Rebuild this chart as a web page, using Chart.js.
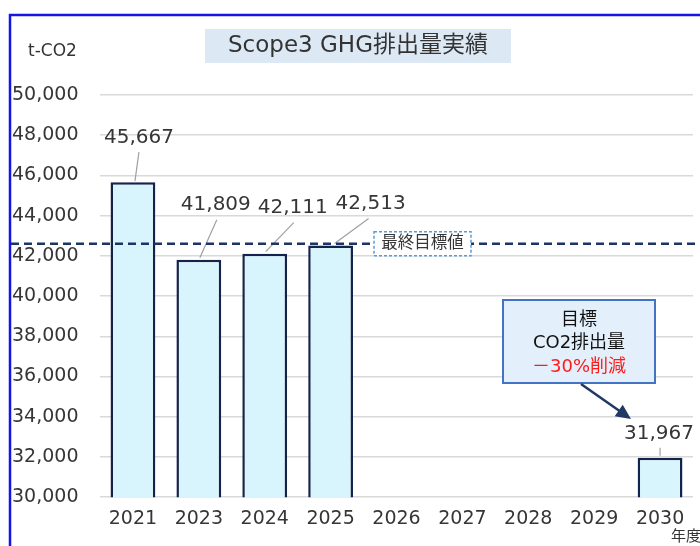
<!DOCTYPE html>
<html lang="ja">
<head>
    <meta charset="UTF-8">
    <title>Scope3 GHG排出量実績</title>
    <script src="https://cdn.jsdelivr.net/npm/chart.js"></script>
    <style>
        html, body { margin: 0; padding: 0; background: #ffffff; }
        #wrap { width: 700px; height: 546px; position: relative; }
    </style>
</head>
<body>
<div id="wrap">
    <canvas id="ghgChart" width="700" height="546"></canvas>
</div>
<script>
    // data
    const years = ['2021', '2023', '2024', '2025', '2026', '2027', '2028', '2029', '2030'];
    const emissions = [45667, 41809, 42111, 42513, null, null, null, null, 31967];
    const yTicks = [30000, 32000, 34000, 36000, 38000, 40000, 42000, 44000, 46000, 48000, 50000];
    const targetValue = 42600;

    const FONT = '"DejaVu Sans", "Noto Sans CJK JP", sans-serif';
    const TXT = '#363636';

    // label offsets from bar top (dx, dy of label centre, leader start/end)
    const labelLayout = [
        { dx: 6, dy: -44, from: [2, -1], to: [6, -30] },
        { dx: 17, dy: -55, from: [1, -2], to: [18, -40] },
        { dx: 28, dy: -46, from: [1, -2], to: [29, -31] },
        { dx: 40, dy: -42, from: [4, -2], to: [38, -27] },
        null, null, null, null,
        { dx: -1, dy: -24, from: [0, -2], to: [0, -10] }
    ];

    const decorations = {
        id: 'decorations',
        afterDatasetsDraw(chart) {
            const { ctx, scales } = chart;
            const y = scales.y;
            ctx.save();

            // data labels + leader lines
            const meta = chart.getDatasetMeta(0);
            ctx.font = '20px ' + FONT;
            ctx.textAlign = 'center';
            ctx.textBaseline = 'middle';
            emissions.forEach((v, i) => {
                if (v === null || !labelLayout[i]) return;
                const bar = meta.data[i];
                const bx = bar.x, by = bar.y;
                const L = labelLayout[i];
                ctx.strokeStyle = '#a0a0a0';
                ctx.lineWidth = 1.2;
                ctx.beginPath();
                ctx.moveTo(bx + L.from[0], by + L.from[1]);
                ctx.lineTo(bx + L.to[0], by + L.to[1]);
                ctx.stroke();
                ctx.fillStyle = TXT;
                ctx.fillText(v.toLocaleString('en-US'), bx + L.dx, by + L.dy);
            });

            // target dashed line
            const ty = y.getPixelForValue(targetValue);
            ctx.strokeStyle = '#1c3566';
            ctx.lineWidth = 2.5;
            ctx.setLineDash([8, 5]);
            ctx.beginPath();
            ctx.moveTo(11, ty);
            ctx.lineTo(700, ty);
            ctx.stroke();

            // target label box
            ctx.setLineDash([3, 2]);
            ctx.lineWidth = 1.5;
            ctx.strokeStyle = '#5b9bd5';
            ctx.fillStyle = '#ffffff';
            ctx.fillRect(374, ty - 12, 97, 24);
            ctx.strokeRect(374, ty - 12, 97, 24);
            ctx.setLineDash([]);
            ctx.fillStyle = TXT;
            ctx.font = '16.5px ' + FONT;
            ctx.fillText('最終目標値', 422.5, ty);

            // callout box
            ctx.fillStyle = '#e3effa';
            ctx.fillRect(503, 300, 152, 83);
            ctx.strokeStyle = '#4472c4';
            ctx.lineWidth = 2;
            ctx.strokeRect(503, 300, 152, 83);
            ctx.font = '18px ' + FONT;
            ctx.fillStyle = '#111111';
            ctx.fillText('目標', 579, 320);
            ctx.fillText('CO2排出量', 579, 343);
            ctx.fillStyle = '#ff1a1a';
            ctx.fillText('－30%削減', 579, 367);

            // arrow
            const ax0 = 581, ay0 = 384, ax1 = 631, ay1 = 419;
            const ang = Math.atan2(ay1 - ay0, ax1 - ax0);
            ctx.strokeStyle = '#1f3864';
            ctx.fillStyle = '#1f3864';
            ctx.lineWidth = 2.5;
            ctx.beginPath();
            ctx.moveTo(ax0, ay0);
            ctx.lineTo(ax1 - 10 * Math.cos(ang), ay1 - 10 * Math.sin(ang));
            ctx.stroke();
            ctx.beginPath();
            ctx.moveTo(ax1, ay1);
            ctx.lineTo(ax1 - 15 * Math.cos(ang) + 7 * Math.sin(ang), ay1 - 15 * Math.sin(ang) - 7 * Math.cos(ang));
            ctx.lineTo(ax1 - 15 * Math.cos(ang) - 7 * Math.sin(ang), ay1 - 15 * Math.sin(ang) + 7 * Math.cos(ang));
            ctx.closePath();
            ctx.fill();

            ctx.restore();
        },
        afterDraw(chart) {
            const ctx = chart.ctx;
            ctx.save();
            // title
            ctx.fillStyle = '#dce9f5';
            ctx.fillRect(205, 29, 306, 34);
            ctx.fillStyle = '#333333';
            ctx.font = '23px ' + FONT;
            ctx.textAlign = 'center';
            ctx.textBaseline = 'middle';
            ctx.fillText('Scope3 GHG排出量実績', 358, 46);

            ctx.font = '17px ' + FONT;
            ctx.textAlign = 'left';
            ctx.fillText('t-CO2', 28, 52);

            ctx.font = '15px ' + FONT;
            ctx.fillText('年度', 671, 537);

            // outer blue frame
            ctx.strokeStyle = '#1414e6';
            ctx.lineWidth = 2.5;
            ctx.beginPath();
            ctx.moveTo(10, 546);
            ctx.lineTo(10, 15);
            ctx.lineTo(700, 15);
            ctx.stroke();
            ctx.restore();
        }
    };

    new Chart(document.getElementById('ghgChart'), {
        type: 'bar',
        data: {
            labels: years,
            datasets: [{
                data: emissions,
                backgroundColor: '#d8f5fd',
                borderColor: '#14234a',
                borderWidth: 2.5,
                categoryPercentage: 1,
                barPercentage: 0.68
            }]
        },
        options: {
            responsive: false,
            animation: false,
            events: [],
            layout: { padding: { top: 95, left: 12, right: 7, bottom: 14 } },
            plugins: { legend: { display: false }, tooltip: { enabled: false } },
            scales: {
                x: {
                    grid: { display: false },
                    border: { display: false },
                    ticks: { color: TXT, font: { family: FONT, size: 19 }, padding: 2 }
                },
                y: {
                    min: 30000,
                    max: 50000,
                    afterBuildTicks(scale) { scale.ticks = yTicks.map(v => ({ value: v })); },
                    afterFit(scale) { scale.width = 88; },
                    grid: { color: '#d9d9d9', lineWidth: 1.5, drawTicks: false },
                    border: { display: false },
                    ticks: {
                        crossAlign: 'far',
                        color: TXT,
                        font: { family: FONT, size: 19 },
                        callback: v => v.toLocaleString('en-US')
                    }
                }
            }
        },
        plugins: [decorations]
    });
</script>
</body>
</html>
